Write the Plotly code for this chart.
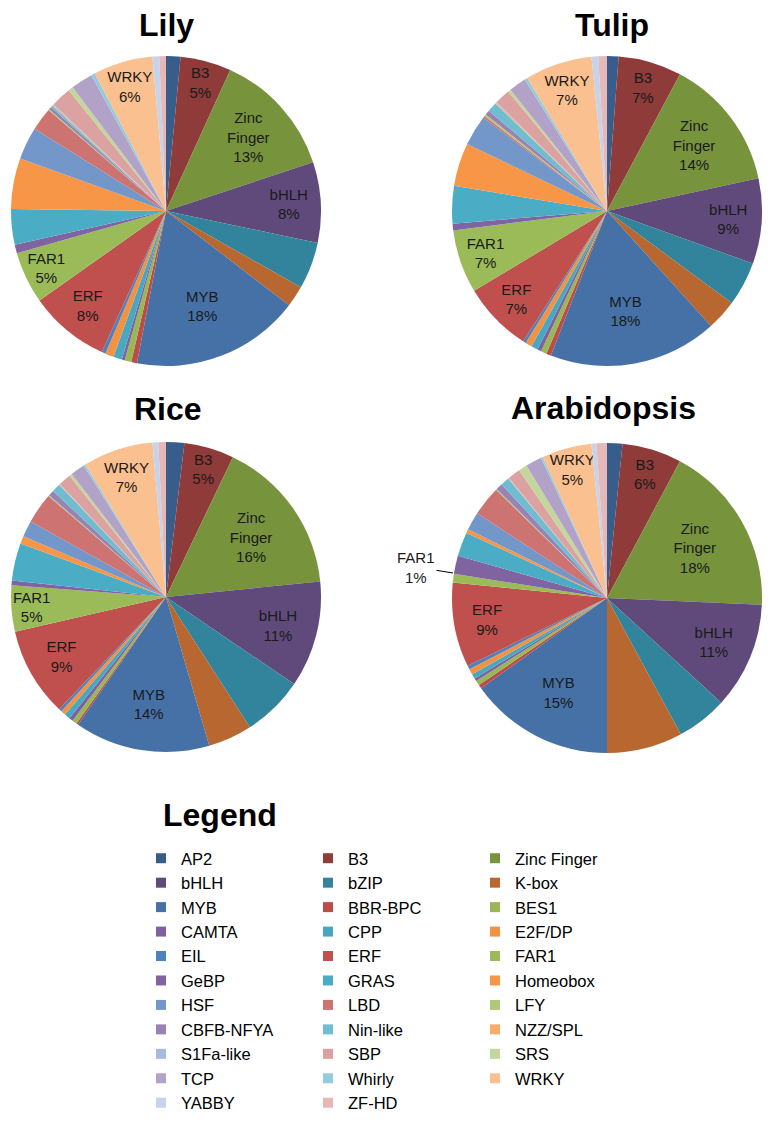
import plotly.graph_objects as go

categories = ["AP2", "B3", "Zinc Finger", "bHLH", "bZIP", "K-box", "MYB", "BBR-BPC",
              "BES1", "CAMTA", "CPP", "E2F/DP", "EIL", "ERF", "FAR1", "GeBP", "GRAS",
              "Homeobox", "HSF", "LBD", "LFY", "CBFB-NFYA", "Nin-like", "NZZ/SPL",
              "S1Fa-like", "SBP", "SRS", "TCP", "Whirly", "WRKY", "YABBY", "ZF-HD"]

lily = [1.5, 5.3, 13.1, 8.4, 4.9, 2.2, 17.6, 0.6, 0.7, 0.3, 0.9, 0.9, 0.4, 8.4, 5.4, 0.9,
        3.7, 5.3, 3.4, 2.4, 0.1, 0.3, 0.2, 0.1, 0.1, 2.1, 0.5, 2.3, 0.4, 6.2, 0.7, 0.7]
tulip = [1.2, 6.6, 13.8, 8.9, 4.6, 3.2, 17.6, 0.5, 0.6, 0.4, 0.7, 0.7, 0.3, 7.3, 6.6, 0.7,
         3.9, 4.5, 3.2, 0.2, 0.2, 0.5, 1.0, 0.1, 0.1, 1.6, 0.3, 1.8, 0.3, 7.0, 0.7, 0.9]
rice = [1.9, 5.2, 16.3, 11.1, 6.4, 4.6, 14.1, 0.2, 0.5, 0.4, 0.6, 0.5, 0.3, 9.3, 4.8, 0.5,
        3.9, 0.8, 1.7, 3.2, 0.1, 0.6, 0.9, 0.05, 0.05, 1.3, 0.3, 1.5, 0.2, 7.3, 0.6, 0.8]
arabidopsis = [1.6, 6.2, 17.9, 11.1, 5.3, 7.9, 15.1, 0.4, 0.5, 0.3, 0.5, 0.6, 0.4, 8.8, 0.9, 1.9,
               2.5, 0.4, 1.9, 3.1, 0.1, 0.7, 0.9, 0.05, 0.05, 1.3, 0.9, 1.7, 0.2, 5.2, 0.5, 1.1]

colors = ["#385D8A", "#8E3B39", "#77933C", "#604A7B", "#31849B", "#B7672F",
          "#4571A7", "#BD4C49", "#98B856", "#7D61A0", "#48A8C2", "#F29243",
          "#4F81BD", "#C0504D", "#9BBB59", "#8064A2", "#4BACC6", "#F79646",
          "#7397C9", "#CD7371", "#AFC97A", "#9983B5", "#6FBDD1", "#F9AB6B",
          "#A7BCDC", "#DCA2A1", "#C3D69B", "#B3A2C7", "#93CDDD", "#FAC090",
          "#C6D3E8", "#E6B9B8"]

titles = ["Lily", "Tulip", "Rice", "Arabidopsis"]
labelled = {"B3": "B3", "Zinc Finger": "Zinc<br>Finger", "bHLH": "bHLH", "MYB": "MYB",
            "ERF": "ERF", "FAR1": "FAR1", "WRKY": "WRKY"}

FONT = "Liberation Sans, Arial, sans-serif"
W, H = 774, 1127
OX, OY = 8, 8  # default page body margin of the html page


def px(x):
    return (x - OX) / W


def py(y):
    return 1 - (y - OY) / H


# pie boxes in window pixels: (left, right, top, bottom)
boxes = [(11, 321, 56, 366), (452, 762, 56, 366), (11, 321, 442, 752), (452, 762, 443, 753)]
title_pos = [(166, 25), (612, 25), (168, 409), (603, 408)]

fig = go.Figure()
for i, (name, vals) in enumerate(zip(titles, [lily, tulip, rice, arabidopsis])):
    l, r, t, b = boxes[i]
    texts, templates, positions = [], [], []
    for c in categories:
        show = c in labelled and not (name == "Arabidopsis" and c == "FAR1")
        texts.append(labelled.get(c, c))
        templates.append("%{text}<br>%{percent:.0%}" if show else "")
        positions.append("inside" if show else "none")
    fig.add_trace(go.Pie(
        labels=categories, values=vals, text=texts, texttemplate=templates,
        textposition=positions, insidetextorientation="horizontal",
        sort=False, direction="clockwise", rotation=0,
        marker=dict(colors=colors, line=dict(width=0)),
        textfont=dict(family=FONT, size=15, color="#1a1a1a"),
        domain=dict(x=[px(l), px(r)], y=[py(b), py(t)]),
        name=name, showlegend=False, hoverinfo="label+percent",
    ))
    tx, ty = title_pos[i]
    fig.add_annotation(x=px(tx), y=py(ty), xref="paper", yref="paper", text="<b>%s</b>" % name,
                       showarrow=False, font=dict(family=FONT, size=32, color="#000000"),
                       xanchor="center", yanchor="middle")

# Arabidopsis FAR1 outside label with leader line
fig.add_annotation(x=px(453), y=py(573), xref="paper", yref="paper",
                   text="FAR1<br>1%", showarrow=True, arrowhead=0, arrowwidth=1,
                   arrowcolor="#000000", ax=-37, ay=-6,
                   font=dict(family=FONT, size=15, color="#1a1a1a"))

# legend: three columns, filled row by row
legend_names = ["legend", "legend2", "legend3"]
for k, c in enumerate(categories):
    fig.add_trace(go.Scatter(
        x=[None], y=[None], mode="markers", name=c,
        marker=dict(symbol="square", size=10, color=colors[k]),
        legend=legend_names[k % 3], showlegend=True, hoverinfo="skip"))

col_x = [141, 308, 475]
legend_top = 841
leg_common = dict(orientation="v", xanchor="left", yanchor="top", y=py(legend_top),
                  bgcolor="rgba(0,0,0,0)", itemwidth=30, traceorder="normal",
                  font=dict(family=FONT, size=16.5, color="#000000"))

fig.add_annotation(x=px(161), y=py(815), xref="paper", yref="paper", text="<b>Legend</b>",
                   showarrow=False, xanchor="left", yanchor="middle",
                   font=dict(family=FONT, size=32, color="#000000"))

fig.update_layout(
    width=W, height=H, margin=dict(l=0, r=0, t=0, b=0, autoexpand=False),
    paper_bgcolor="white", plot_bgcolor="white",
    font=dict(family=FONT, color="#000000"),
    uniformtext=dict(minsize=15, mode="show"),
    xaxis=dict(visible=False), yaxis=dict(visible=False),
    legend=dict(x=px(col_x[0]), **leg_common),
    legend2=dict(x=px(col_x[1]), **leg_common),
    legend3=dict(x=px(col_x[2]), **leg_common),
)

fig.write_html("out.html")
